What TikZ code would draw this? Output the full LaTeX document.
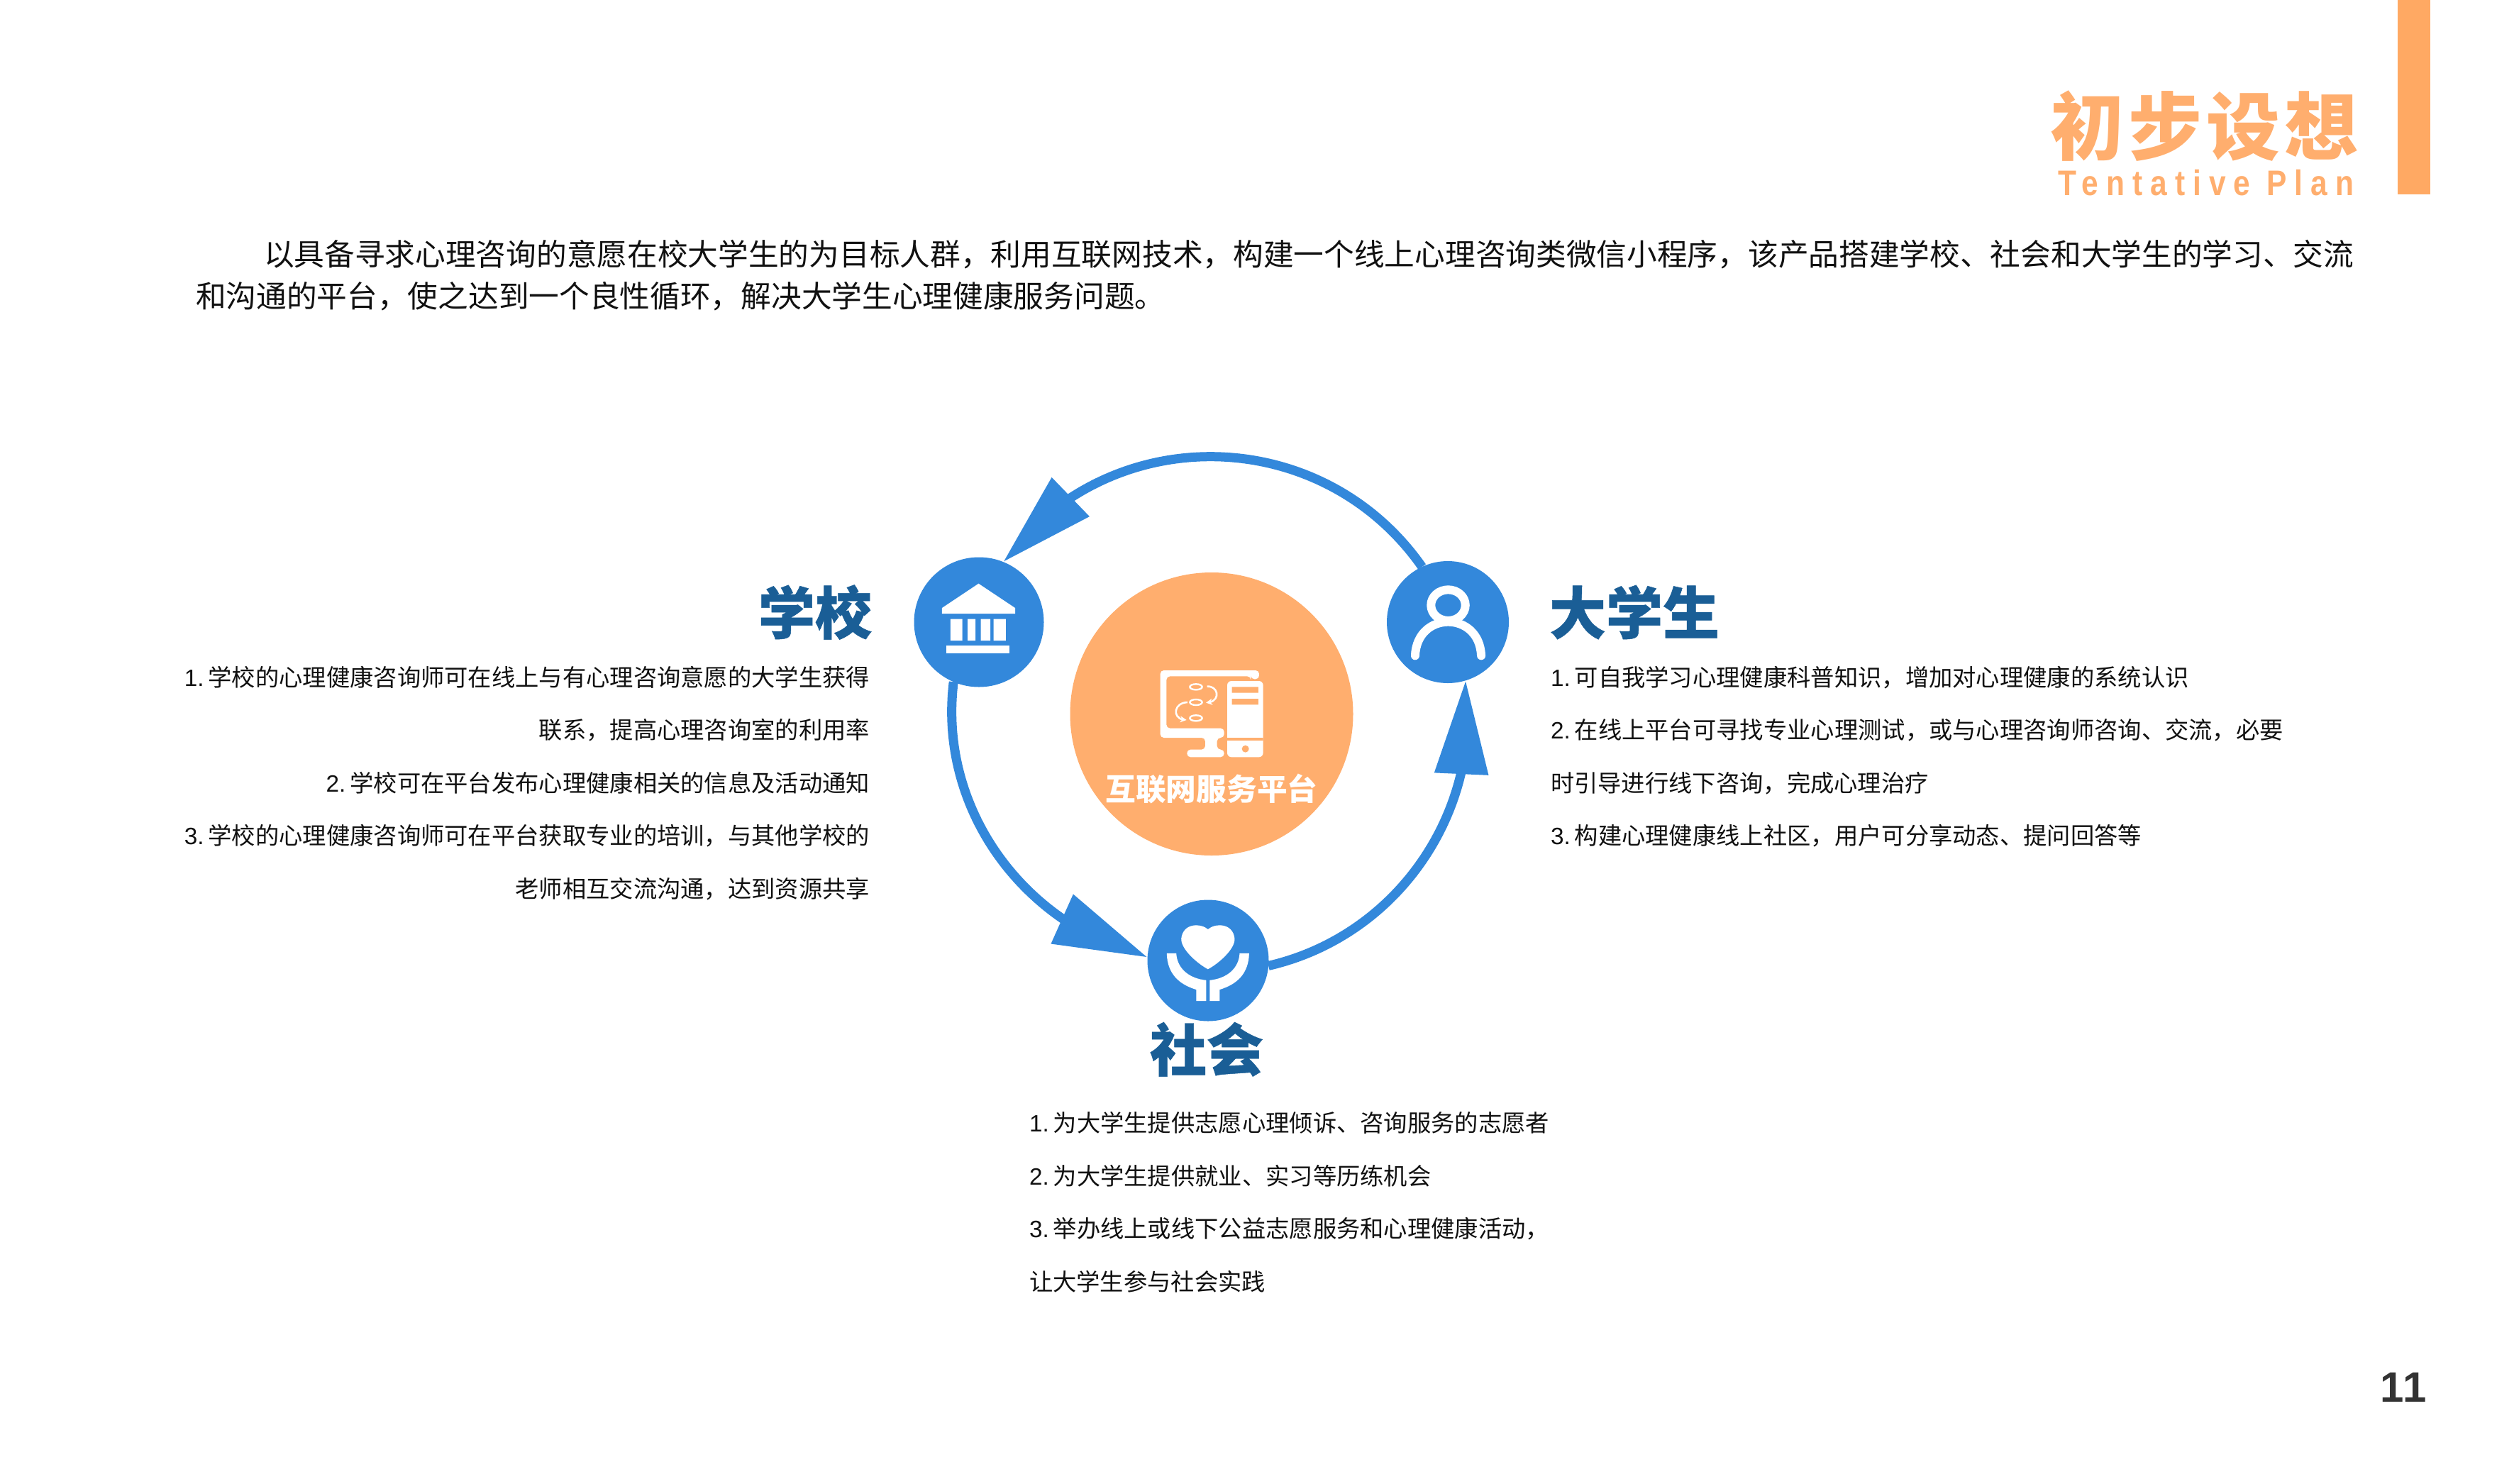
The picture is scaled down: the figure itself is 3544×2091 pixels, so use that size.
\documentclass[tikz,border=0pt]{standalone}
\usepackage{fontspec}
\usetikzlibrary{arrows.meta,bending}
\setmainfont{Noto Sans CJK SC}
\newfontfamily\latinf{Liberation Sans}
\newcommand\nm[1]{{\latinf #1}\hspace{6pt}}
\definecolor{orangebar}{HTML}{FFA963}
\definecolor{orangedisc}{HTML}{FFAE6E}
\definecolor{ringblue}{HTML}{3388DB}
\definecolor{headblue}{HTML}{1A5E96}
\definecolor{bodyk}{HTML}{111111}
\tikzset{
  txt/.style={inner sep=0pt,outer sep=0pt,text=bodyk},
  para/.style={txt,text height=35pt,text depth=5pt,font=\fontsize{42.7}{50}\selectfont},
  item/.style={txt,text height=27pt,text depth=4pt,font=\fontsize{33.3}{40}\selectfont},
  heading/.style={txt,text=headblue,text height=66pt,text depth=10pt,font=\fontsize{80}{84}\selectfont\bfseries\addfontfeature{FakeBold=.6}},
  hub/.style={circle,fill=ringblue,inner sep=0pt,outer sep=0pt},
  conn/.style={draw=ringblue,line width=13pt,-{Triangle[length=132pt,width=73pt,flex,fill=ringblue]}},
}
\begin{document}
\begin{tikzpicture}[x=1pt,y=1pt]
\useasboundingbox (0,0) rectangle (3544,-2091);
\fill[white] (0,0) rectangle (3544,-2091);
% header
\fill[orangebar] (3380,0) rectangle (3426,-274);
\node[txt,text=orangedisc,anchor=east,text height=86pt,text depth=12pt,font=\fontsize{104}{104}\selectfont\bfseries\addfontfeature{LetterSpace=6}] (title) at (3325,-180) {初步设想};
\node[txt,text=orangedisc,anchor=east,text height=36pt,text depth=0pt,font=\latinf\fontsize{50}{56}\selectfont\bfseries\addfontfeature{FakeStretch=.85,LetterSpace=22}] (subtitle) at (3318,-257) {Tentative Plan};
% intro
\node[para,anchor=west] (introa) at (372,-359) {以具备寻求心理咨询的意愿在校大学生的为目标人群，利用互联网技术，构建一个线上心理咨询类微信小程序，该产品搭建学校、社会和大学生的学习、交流};
\node[para,anchor=west] (introb) at (276,-418) {和沟通的平台，使之达到一个良性循环，解决大学生心理健康服务问题。};
% centre
\node[circle,fill=orangedisc,minimum size=399pt,inner sep=0pt] (hubc) at (1708,-1006.5) {};
\node[hub,minimum size=183pt] (school) at (1380,-877) {};
\node[hub,minimum size=172pt] (student) at (2041,-877) {};
\node[hub,minimum size=171pt] (society) at (1703,-1354) {};
% connectors
\draw[conn] (student.115) to[out=125,in=53.9,looseness=1.077] (school.68);
\draw[conn] (school.247) to[out=263,in=165.7,looseness=.974] (society.177);
\draw[conn] (society.-5) to[out=13,in=-82.5,looseness=.977] (student.-73);
% school icon
\begin{scope}[shift={(1250,-600)},x=.6378pt,y=-.574pt]
\fill[white] (203,388) -- (284,448) -- (284,462) -- (122,462) -- (122,448) -- cycle;
\fill[white] (141,475) rectangle (167,528) (179,475) rectangle (196,528) (208,475) rectangle (229,528) (236,475) rectangle (263,528);
\fill[white] (132,540) rectangle (271,560);
% person icon
\draw[white,line width=12pt] (1241,441) ellipse [x radius=38,y radius=38];
\draw[white,line width=12pt,line cap=round] (1168,565) .. controls (1170,510) and (1205,482) .. (1241,482) .. controls (1277,482) and (1312,510) .. (1314,565);
% society icon
\fill[white] (710,1237) .. controls (695,1222) and (655,1220) .. (651,1260) .. controls (650,1285) and (685,1320) .. (710,1335) .. controls (735,1320) and (770,1285) .. (769,1260) .. controls (765,1220) and (725,1222) .. (710,1237) -- cycle;
\fill[white] (619,1296) -- (640,1296) .. controls (642,1335) and (670,1358) .. (706,1362) -- (706,1413) -- (684,1413) -- (684,1385) .. controls (645,1372) and (620,1345) .. (619,1296) -- cycle;
\fill[white] (801,1296) -- (780,1296) .. controls (778,1335) and (750,1358) .. (714,1362) -- (714,1413) -- (736,1413) -- (736,1385) .. controls (775,1372) and (800,1345) .. (801,1296) -- cycle;
\end{scope}
% computer icon
\begin{scope}[shift={(1550,-900)},x=.3333pt,y=-.3333pt]
\fill[white,rounded corners=5pt] (257,135) -- (675,135) -- (675,172) -- (640,172) -- (640,160) -- (283,160) -- (283,380) -- (527,380) -- (527,420) -- (497,420) -- (497,470) -- (527,470) -- (527,502) -- (370,502) -- (370,470) -- (447,470) -- (447,420) -- (257,420) -- cycle;
\fill[white,rounded corners=6pt] (540,180) rectangle (692,502);
\fill[orangedisc] (560,205) rectangle (672,230) (560,255) rectangle (672,280) (540,420) rectangle (692,432);
\fill[orangedisc] (617,467) circle[radius=15];
\draw[white,line width=2.4pt] (408,205) ellipse[x radius=26,y radius=12] (408,270) ellipse[x radius=26,y radius=12] (408,337) ellipse[x radius=26,y radius=12];
\draw[white,line width=2.6pt,-{Stealth[length=9pt,width=9pt]}] (455,203) .. controls (505,200) and (515,270) .. (450,272);
\draw[white,line width=2.6pt,-{Stealth[length=9pt,width=9pt]}] (372,270) .. controls (310,272) and (305,345) .. (368,345);
\end{scope}
\node[txt,text=white,text height=35pt,text depth=5pt,font=\fontsize{42.7}{48}\selectfont\bfseries] (hubtext) at (1708,-1113) {互联网服务平台};
% headings
\node[heading,anchor=east] (hschool) at (1229,-866) {学校};
\node[heading,anchor=west] (hstudent) at (2184,-866) {大学生};
\node[heading] (hsociety) at (1701,-1482) {社会};
% school list
\node[item,anchor=east] (sa) at (1226,-956) {\nm{1.}学校的心理健康咨询师可在线上与有心理咨询意愿的大学生获得};
\node[item,anchor=east] (sb) at (1226,-1030) {联系，提高心理咨询室的利用率};
\node[item,anchor=east] (sc) at (1226,-1105) {\nm{2.}学校可在平台发布心理健康相关的信息及活动通知};
\node[item,anchor=east] (sd) at (1226,-1179) {\nm{3.}学校的心理健康咨询师可在平台获取专业的培训，与其他学校的};
\node[item,anchor=east] (se) at (1226,-1254) {老师相互交流沟通，达到资源共享};
% student list
\node[item,anchor=west] (ta) at (2186,-956) {\nm{1.}可自我学习心理健康科普知识，增加对心理健康的系统认识};
\node[item,anchor=west] (tb) at (2186,-1030) {\nm{2.}在线上平台可寻找专业心理测试，或与心理咨询师咨询、交流，必要};
\node[item,anchor=west] (tc) at (2186,-1105) {时引导进行线下咨询，完成心理治疗};
\node[item,anchor=west] (td) at (2186,-1179) {\nm{3.}构建心理健康线上社区，用户可分享动态、提问回答等};
% society list
\node[item,anchor=west] (ua) at (1451,-1584) {\nm{1.}为大学生提供志愿心理倾诉、咨询服务的志愿者};
\node[item,anchor=west] (ub) at (1451,-1659) {\nm{2.}为大学生提供就业、实习等历练机会};
\node[item,anchor=west] (uc) at (1451,-1733) {\nm{3.}举办线上或线下公益志愿服务和心理健康活动，};
\node[item,anchor=west] (ud) at (1451,-1808) {让大学生参与社会实践};
% page number
\node[txt,text=black!80,anchor=east,text height=44pt,text depth=0pt,font=\latinf\fontsize{60}{70}\selectfont\bfseries\addfontfeature{LetterSpace=3}] (pageno) at (3421,-1954) {11};
\end{tikzpicture}
\end{document}
